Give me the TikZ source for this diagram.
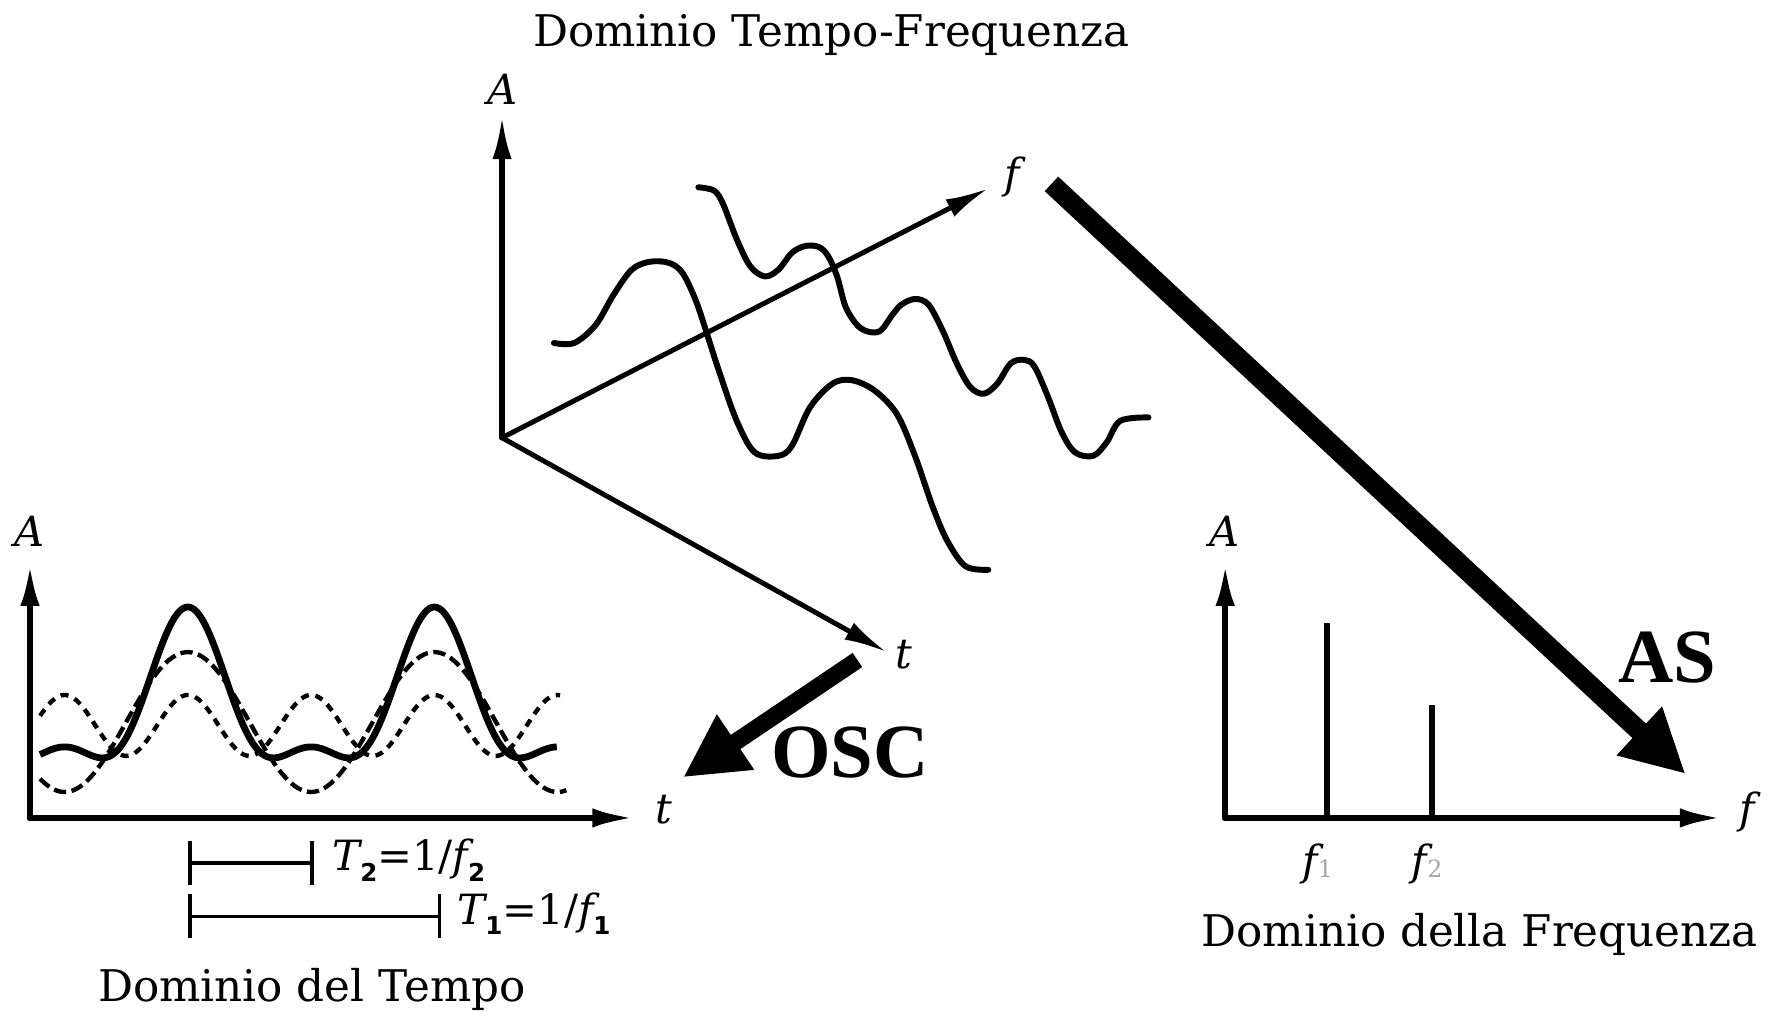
\documentclass[tikz,border=0pt]{standalone}
\usepackage{fontspec}
\setmainfont{DejaVu Serif}
\newfontfamily\labelserif{Liberation Serif}
\newfontfamily\subsans{DejaVu Sans}
\usetikzlibrary{arrows.meta}
\newcommand\tsub[1]{\raisebox{-2.6pt}{\subsans\bfseries\upshape\fontsize{6.2}{6}\selectfont #1}}
\newcommand\gsub[1]{\raisebox{-0.5pt}{\upshape\color{black!35}\fontsize{6}{6}\selectfont #1}}
\begin{document}
\begin{tikzpicture}[x=0.01cm, y=-0.01cm,
  dtext/.style={font=\fontsize{11}{12}\selectfont, inner sep=0pt, anchor=base},
  alabel/.style={font=\fontsize{10.5}{12}\selectfont\itshape, inner sep=0pt},
  axtip/.style={-{Latex[length=0.38cm,width=0.17cm]}},
  axthree/.style={line width=1.25pt, axtip, line cap=round},
  axtwo/.style={line width=1.6pt, axtip, line cap=round},
  wave/.style={line width=1.5pt, line join=round, line cap=round},
  solidw/.style={line width=1.7pt, line join=round},
  dashone/.style={line width=1.1pt, dash pattern=on 3.1pt off 1.4pt},
  dashtwo/.style={line width=1.1pt, dash pattern=on 2pt off 1.7pt},
  spike/.style={line width=1.5pt},
  brk/.style={line width=0.8pt, {Bar[width=0.39cm]}-{Bar[width=0.39cm]}},
  bigarrow/.style={-{Triangle[length=0.56cm,width=0.55cm]}},
  biglab/.style={font=\labelserif\bfseries\fontsize{19.3}{22}\selectfont, inner sep=0pt, anchor=base}
]
\useasboundingbox (0,0) rectangle (1568,902);

% titles
\node[dtext] (title) at (737,41) {Dominio Tempo-Frequenza};
\node[dtext] (tdtitle) at (276.5,888) {Dominio del Tempo};
\node[dtext] (fdtitle) at (1311.5,839) {Dominio della Frequenza};

% ---------- 3D time-frequency plot ----------
\coordinate (O3) at (445,388);
\coordinate (A3) at (445,103);
\coordinate (F3) at (876,167);
\coordinate (T3) at (786,578);
\draw[axthree, line width=1.4pt] (O3) -- (A3);
\draw[axthree] (O3) -- (F3);
\draw[axthree] (O3) -- (T3);
\node[alabel] (lA3) at (445,79) {A};
\node[alabel] (lF3) at (897,157) {f};
\node[alabel] (lT3) at (801,580) {t};

\draw[wave] plot[smooth, tension=0.55] coordinates {
(491,304) (509,304) (528,288) (544,261) (560,239) (576,232) (593,233) (605,242)
(617,267) (627,297) (637,328) (653,373) (669,401) (690,404) (702,395) (718,361)
(738,340) (755,337) (775,346) (795,367) (811,404) (827,450) (840,480) (856,502) (876,505)};
\draw[wave] plot[smooth, tension=0.55] coordinates {
(619,166) (633,169) (641,181) (653,212) (665,236) (678,245) (690,239) (702,224)
(714,218) (726,219) (734,227) (742,245) (750,273) (763,291) (779,294) (791,279)
(799,270) (811,265) (823,270) (836,294) (848,322) (860,343) (872,349) (884,340)
(896,322) (908,319) (917,325) (929,352) (941,383) (953,401) (969,404) (981,392)
(993,373) (1018,370)};

% ---------- time domain ----------
\coordinate (Ot) at (26.6,725);
\coordinate (At) at (26.6,499);
\coordinate (Tt) at (563,725);
\draw[axtwo] (Ot) -- (At);
\draw[axtwo] (Ot) -- (Tt);
\node[alabel] (lAt) at (26.6,471) {A};
\node[alabel] (lTt) at (588,718) {t};

\draw[dashone] plot[domain=35.5:502, samples=160] ({\x}, {640-62*cos((\x-166.5)*1.6476)});
\draw[dashtwo] plot[domain=35.5:496.5, samples=200] ({\x}, {643-27*cos((\x-166.5)*3.2952)});
\draw[solidw] plot[domain=35.5:493.5, samples=220] ({\x}, {627-62*cos((\x-166.5)*1.6476)-27*cos((\x-166.5)*3.2952)});

\coordinate (t2a) at (167,765);
\coordinate (t2b) at (278,765);
\coordinate (t1a) at (167,812);
\coordinate (t1b) at (391,812);
\draw[brk] (t2a) -- (t2b);
\draw[brk] (t1a) -- (t1b);
\node[anchor=base west, inner sep=0pt, font=\fontsize{10.5}{12}\selectfont] (lT2) at (294,772)
  {\itshape T\tsub{2}\upshape=1/\itshape f\tsub{2}};
\node[anchor=base west, inner sep=0pt, font=\fontsize{10.5}{12}\selectfont] (lT1) at (405,819)
  {\itshape T\tsub{1}\upshape=1/\itshape f\tsub{1}};

% ---------- frequency domain ----------
\coordinate (Of) at (1086,725);
\coordinate (Af) at (1086,499);
\coordinate (Ff) at (1527,725);
\draw[axtwo] (Of) -- (Af);
\draw[axtwo] (Of) -- (Ff);
\node[alabel] (lAf) at (1085,471) {A};
\node[alabel] (lFf) at (1549,720) {f};
\coordinate (s1b) at (1176,725);
\coordinate (s1t) at (1176,552.6);
\coordinate (s2b) at (1269.6,725);
\coordinate (s2t) at (1269.6,625);
\draw[spike] (s1b) -- (s1t);
\draw[spike] (s2b) -- (s2t);
\node[alabel] (lf1) at (1168,766) {f\gsub{1}};
\node[alabel] (lf2) at (1265,766) {f\gsub{2}};

% ---------- big arrows ----------
\coordinate (oscS) at (760,585);
\coordinate (oscE) at (605.5,689);
\draw[bigarrow, line width=4.3pt] (oscS) -- (oscE);
\node[biglab] (osc) at (753.5,689) {OSC};
\coordinate (asS) at (932,163);
\coordinate (asE) at (1494,686);
\draw[bigarrow, line width=5pt] (asS) -- (asE);
\node[biglab] (as) at (1478,605) {AS};
\end{tikzpicture}
\end{document}
